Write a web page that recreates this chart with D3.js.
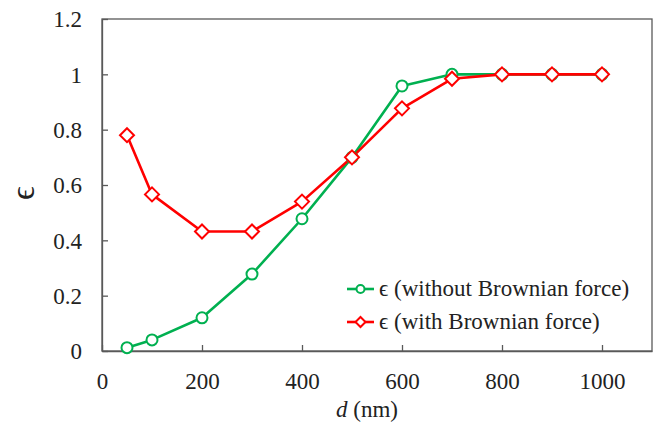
<!DOCTYPE html>
<html>
<head>
<meta charset="utf-8">
<script src="https://cdn.jsdelivr.net/npm/d3@7"></script>
<style>
  body { margin: 0; background: #fff; }
</style>
</head>
<body>
<svg id="chart" width="655" height="424"></svg>
<script>
// data
const dValues = [50, 100, 200, 300, 400, 500, 600, 700, 800, 900, 1000];
const epsNoBrownian = [0.012, 0.04, 0.12, 0.278, 0.478, 0.70, 0.958, 1.0, 1.0, 1.0, 1.0];
const epsBrownian = [0.78, 0.566, 0.432, 0.432, 0.54, 0.70, 0.877, 0.984, 1.0, 1.0, 1.0];
const xTicks = [0, 200, 400, 600, 800, 1000];
const yTicks = [0, 0.2, 0.4, 0.6, 0.8, 1, 1.2];
const seriesNames = ["ϵ (without Brownian force)", "ϵ (with Brownian force)"];

const FONT = "Liberation Serif, Times New Roman, serif";
const svg = d3.select("#chart"),
      margin = {top: 19, right: 3, bottom: 73, left: 102},
      W = 655, H = 424,
      width = W - margin.left - margin.right,
      height = H - margin.top - margin.bottom;

svg.attr("font-family", FONT);

const g = svg.append("g")
             .attr("transform", "translate(" + margin.left + "," + margin.top + ")");

const x = d3.scaleLinear().domain([0, 1100]).range([0, width]);
const y = d3.scaleLinear().domain([0, 1.2]).range([height, 0]);

// frame
g.append("rect")
 .attr("width", width).attr("height", height)
 .attr("fill", "none").attr("stroke", "#595959").attr("stroke-width", 1.3);

// axes (ticks point inward)
const xAxis = g.append("g")
 .attr("transform", "translate(0," + height + ")")
 .call(d3.axisBottom(x).tickValues(xTicks).tickSizeInner(-6).tickSizeOuter(0).tickPadding(22).tickFormat(d3.format("d")));
const yAxis = g.append("g")
 .call(d3.axisLeft(y).tickValues(yTicks).tickSizeInner(-6).tickSizeOuter(0).tickPadding(20).tickFormat(d => String(d)));

[xAxis, yAxis].forEach(a => {
  a.attr("font-family", FONT).attr("font-size", 23);
  a.select(".domain").attr("stroke", "#595959").attr("stroke-width", 1.3);
  a.selectAll(".tick line").attr("stroke", "#595959").attr("stroke-width", 1.3);
  a.selectAll(".tick text").attr("fill", "#222");
});
yAxis.selectAll(".tick text").attr("dy", "0.34em");

// axis titles
const xt = svg.append("text")
 .attr("x", 367).attr("y", 417)
 .attr("text-anchor", "middle")
 .attr("font-size", 23)
 .attr("fill", "#222");
xt.append("tspan").attr("font-style", "italic").text("d");
xt.append("tspan").text(" (nm)");

svg.append("text")
 .attr("transform", "translate(34,193) rotate(-90)")
 .attr("text-anchor", "middle")
 .attr("font-size", 34)
 .attr("fill", "#222")
 .text("ϵ");

const line = d3.line().x((d, i) => x(dValues[i])).y(d => y(d));

const colors = ["#00B050", "#FF0000"];
const series = [epsNoBrownian, epsBrownian];

const diamond = r => `M0,${-r}L${r},0L0,${r}L${-r},0Z`;

series.forEach((vals, s) => {
  g.append("path")
   .datum(vals)
   .attr("fill", "none")
   .attr("stroke", colors[s])
   .attr("stroke-width", 2.6)
   .attr("stroke-linejoin", "round")
   .attr("d", line);
});

series.forEach((vals, s) => {
  g.append("g").selectAll("path")
   .data(vals)
   .join("path")
   .attr("transform", (d, i) => "translate(" + x(dValues[i]) + "," + y(d) + ")")
   .attr("fill", "#fff")
   .attr("stroke", colors[s])
   .attr("stroke-width", 2)
   .attr("d", s === 0 ? d3.symbol(d3.symbolCircle, Math.PI * 5.5 * 5.5)() : diamond(7));
});

// legend
const legend = svg.append("g");
seriesNames.forEach((name, s) => {
  const ly = 289 + s * 33;
  legend.append("line")
   .attr("x1", 347).attr("x2", 374).attr("y1", ly).attr("y2", ly)
   .attr("stroke", colors[s]).attr("stroke-width", 2.6);
  legend.append("path")
   .attr("transform", "translate(360.5," + ly + ")")
   .attr("fill", "#fff").attr("stroke", colors[s]).attr("stroke-width", 2)
   .attr("d", s === 0 ? d3.symbol(d3.symbolCircle, Math.PI * 4 * 4)() : diamond(5));
  legend.append("text")
   .attr("x", 379).attr("y", ly + 7)
   .attr("font-size", 23)
   .attr("fill", "#222")
   .text(name);
});
</script>
</body>
</html>
